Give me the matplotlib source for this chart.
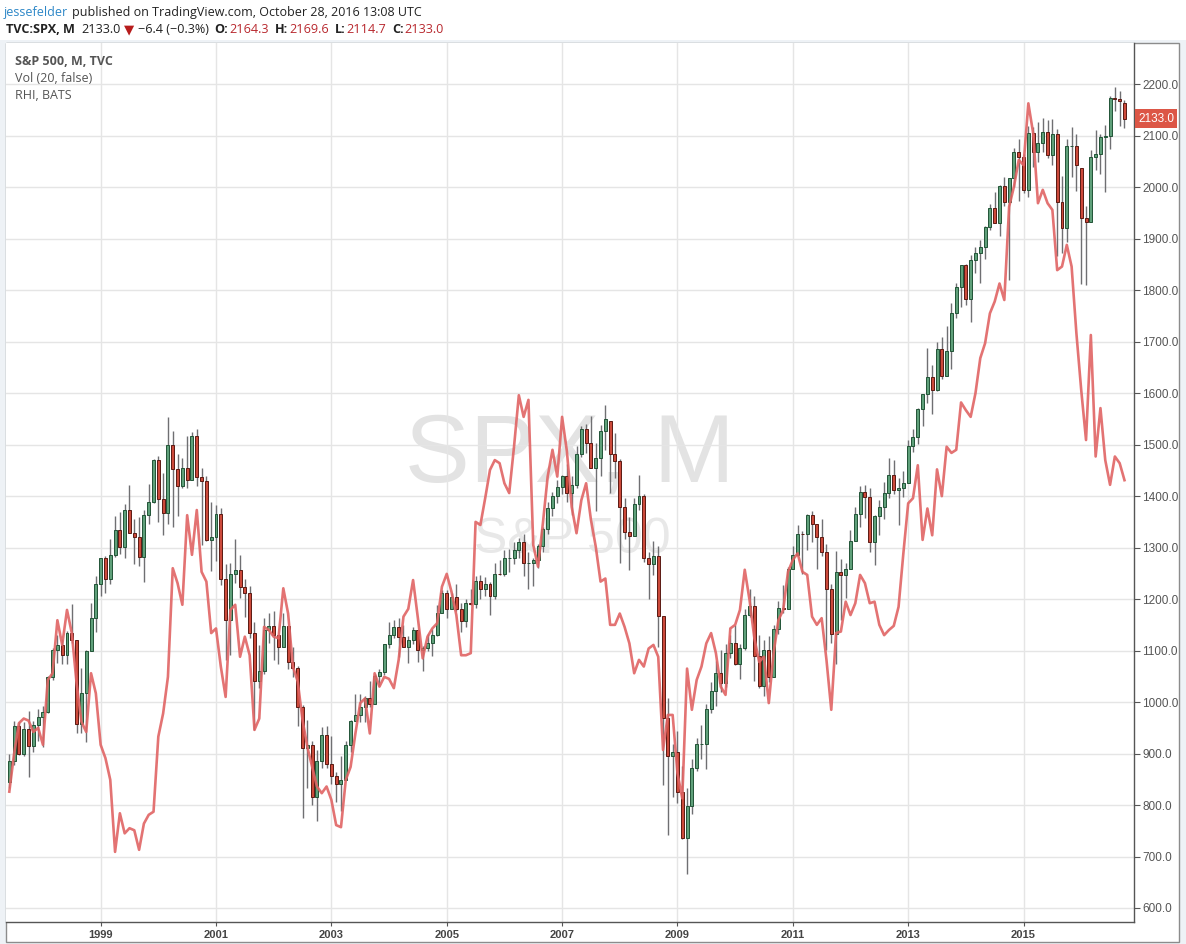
import numpy as np
import matplotlib
matplotlib.use("Agg")
import matplotlib.pyplot as plt
from matplotlib.patches import Rectangle
from matplotlib.transforms import IdentityTransform

# monthly S&P 500 candles, Jun 1997 .. Oct 2016
spx_open = [
    845.5, 885.1, 954.3, 899.5, 947.3, 914.6, 955.4,
    970.4, 980.3, 1049.3, 1101.8, 1111.8, 1090.8, 1133.8, 1120.7, 957.3, 1017.0, 1098.7, 1163.6,
    1229.2, 1279.6, 1238.3, 1286.4, 1335.2, 1301.8, 1372.7, 1328.7, 1320.4, 1282.7, 1362.9, 1388.9,
    1469.3, 1394.5, 1366.4, 1498.6, 1452.4, 1420.6, 1454.6, 1430.8, 1517.7, 1436.5, 1429.4, 1315.0,
    1320.3, 1366.0, 1239.9, 1160.3, 1249.5, 1255.8, 1224.4, 1211.2, 1133.6, 1040.9, 1059.8, 1139.5,
    1148.1, 1130.2, 1106.7, 1147.4, 1076.9, 1067.1, 989.8, 911.6, 916.1, 815.3, 885.8, 936.3,
    879.8, 855.7, 841.2, 848.2, 916.9, 963.6, 974.5, 990.3, 1008.0, 996.0, 1050.7, 1058.2,
    1111.9, 1131.1, 1144.9, 1126.2, 1107.3, 1120.7, 1140.8, 1101.7, 1104.2, 1114.6, 1130.2, 1173.8,
    1211.9, 1181.3, 1203.6, 1180.6, 1156.9, 1191.5, 1191.3, 1234.2, 1220.3, 1228.8, 1207.0, 1249.5,
    1248.3, 1280.1, 1280.7, 1294.8, 1310.6, 1270.1, 1270.2, 1276.7, 1303.8, 1335.9, 1377.9, 1400.6,
    1418.3, 1438.2, 1406.8, 1420.9, 1482.4, 1530.6, 1503.4, 1455.3, 1474.0, 1526.8, 1545.8, 1481.1,
    1468.4, 1378.6, 1330.6, 1322.7, 1385.6, 1400.4, 1280.0, 1267.4, 1282.8, 1166.4, 968.8, 896.2,
    903.3, 825.9, 735.1, 797.9, 872.8, 919.1, 919.3, 987.5, 1020.6, 1057.1, 1036.2, 1095.6,
    1115.1, 1073.9, 1104.5, 1169.4, 1186.7, 1089.4, 1030.7, 1101.6, 1049.3, 1141.2, 1183.3, 1180.6,
    1257.6, 1286.1, 1327.2, 1325.8, 1363.6, 1345.2, 1320.6, 1292.3, 1218.9, 1131.4, 1253.3, 1247.0,
    1257.6, 1312.4, 1365.7, 1408.5, 1397.9, 1310.3, 1362.2, 1379.3, 1406.6, 1440.7, 1412.2, 1416.2,
    1426.2, 1498.1, 1514.7, 1569.2, 1597.6, 1630.7, 1606.3, 1685.7, 1633.0, 1681.6, 1756.5, 1805.8,
    1848.4, 1782.6, 1859.5, 1872.3, 1884.0, 1923.6, 1960.2, 1930.7, 2003.4, 1972.3, 2018.1, 2067.6,
    2058.9, 1995.0, 2104.5, 2067.9, 2085.5, 2107.4, 2063.1, 2103.8, 1972.2, 1920.0, 2079.4, 2080.4,
    2038.2, 1940.2, 1932.2, 2059.7, 2065.3, 2097.0, 2098.9, 2173.6, 2171.0, 2164.3,
]
spx_high = [
    898.7, 962.7, 961.3, 960.5, 983.1, 963.1, 986.3,
    992.6, 1051.0, 1105.7, 1130.5, 1123.0, 1138.5, 1190.6, 1121.1, 1066.1, 1100.6, 1193.2, 1244.9,
    1280.0, 1282.8, 1316.6, 1361.4, 1368.6, 1385.0, 1421.0, 1354.9, 1360.2, 1373.2, 1424.0, 1473.1,
    1478.0, 1444.6, 1552.9, 1527.2, 1481.5, 1474.6, 1517.3, 1525.2, 1530.1, 1454.8, 1438.5, 1389.1,
    1383.4, 1376.4, 1267.4, 1269.3, 1315.9, 1286.6, 1239.8, 1226.3, 1155.4, 1110.6, 1163.4, 1173.0,
    1176.6, 1130.2, 1173.0, 1147.8, 1106.6, 1070.0, 994.5, 965.0, 924.0, 907.4, 951.0, 954.3,
    935.0, 864.6, 895.9, 924.2, 965.4, 1015.3, 1015.4, 1011.0, 1040.3, 1053.8, 1063.7, 1112.6,
    1155.4, 1159.0, 1163.2, 1150.6, 1127.7, 1146.3, 1140.8, 1108.6, 1131.5, 1142.1, 1188.5, 1217.9,
    1217.8, 1212.4, 1229.1, 1191.9, 1199.6, 1219.6, 1245.2, 1245.9, 1243.1, 1233.3, 1270.6, 1275.8,
    1294.9, 1297.6, 1310.9, 1318.2, 1326.7, 1290.7, 1280.4, 1306.7, 1340.3, 1389.5, 1407.9, 1431.8,
    1441.6, 1461.6, 1438.9, 1498.0, 1535.6, 1540.6, 1555.9, 1503.9, 1538.7, 1576.1, 1545.8, 1523.6,
    1471.8, 1396.0, 1359.7, 1397.0, 1440.2, 1404.1, 1292.2, 1313.2, 1303.0, 1167.0, 1007.5, 918.9,
    943.9, 875.0, 833.0, 888.7, 930.2, 956.2, 996.7, 1039.5, 1080.2, 1101.4, 1113.7, 1130.4,
    1150.5, 1112.4, 1180.2, 1219.8, 1205.1, 1131.2, 1121.0, 1129.2, 1148.9, 1196.1, 1227.1, 1262.6,
    1302.7, 1344.1, 1332.3, 1364.6, 1370.6, 1345.2, 1356.5, 1307.4, 1229.3, 1292.7, 1277.6, 1269.4,
    1333.5, 1378.0, 1419.2, 1422.4, 1415.3, 1363.5, 1391.7, 1426.7, 1474.5, 1471.0, 1434.3, 1448.0,
    1509.9, 1530.9, 1570.3, 1597.6, 1687.2, 1654.2, 1698.8, 1709.7, 1729.9, 1775.2, 1813.6, 1849.4,
    1850.8, 1867.9, 1884.0, 1897.3, 1924.0, 1968.2, 1991.4, 2005.0, 2019.3, 2018.2, 2075.8, 2093.6,
    2064.4, 2119.6, 2117.5, 2125.9, 2134.7, 2129.9, 2132.8, 2112.7, 2021.0, 2094.3, 2116.5, 2104.3,
    2038.2, 1963.0, 2072.2, 2111.1, 2103.5, 2120.6, 2177.1, 2193.8, 2187.9, 2169.6,
]
spx_low = [
    833.1, 876.9, 897.7, 896.2, 855.3, 903.3, 924.9,
    912.8, 979.6, 1042.8, 1076.7, 1074.4, 1074.0, 1114.3, 939.9, 939.9, 923.3, 1098.7, 1136.9,
    1205.5, 1211.7, 1229.0, 1282.0, 1287.2, 1279.5, 1328.0, 1268.1, 1265.0, 1233.7, 1345.0, 1387.4,
    1350.1, 1325.1, 1346.6, 1339.4, 1361.1, 1415.0, 1416.5, 1430.8, 1419.4, 1305.8, 1312.0, 1254.1,
    1274.6, 1228.3, 1081.2, 1091.9, 1232.0, 1203.0, 1165.5, 1124.9, 944.8, 1026.8, 1054.3, 1114.9,
    1081.7, 1074.4, 1106.7, 1063.5, 1048.0, 952.9, 775.7, 833.4, 800.2, 768.6, 872.1, 872.5,
    840.3, 806.3, 788.9, 847.9, 902.8, 963.6, 962.1, 960.8, 990.4, 996.0, 1031.2, 1053.4,
    1105.1, 1124.4, 1087.2, 1107.2, 1076.3, 1113.3, 1078.8, 1060.7, 1099.2, 1090.2, 1127.6, 1173.8,
    1163.8, 1180.3, 1176.9, 1136.2, 1146.2, 1188.3, 1183.6, 1201.1, 1205.4, 1168.2, 1201.1, 1246.6,
    1245.7, 1253.6, 1268.4, 1280.7, 1245.3, 1219.3, 1224.5, 1261.3, 1290.9, 1326.9, 1361.0, 1385.9,
    1404.0, 1389.4, 1364.0, 1416.4, 1476.7, 1484.2, 1454.3, 1370.6, 1439.3, 1489.6, 1406.1, 1435.7,
    1270.1, 1316.8, 1257.0, 1322.7, 1373.1, 1272.0, 1200.4, 1247.5, 1106.4, 839.8, 741.0, 815.7,
    804.2, 734.5, 666.8, 783.3, 866.1, 888.9, 869.3, 978.5, 992.0, 1020.0, 1029.4, 1085.9,
    1071.6, 1044.5, 1101.0, 1165.0, 1040.8, 1028.3, 1010.9, 1039.7, 1049.3, 1131.9, 1173.0, 1180.6,
    1257.6, 1282.9, 1249.1, 1294.7, 1311.8, 1258.1, 1282.9, 1101.5, 1114.2, 1074.8, 1158.7, 1202.4,
    1257.6, 1312.4, 1340.0, 1357.4, 1292.0, 1266.7, 1325.4, 1354.7, 1396.6, 1403.3, 1343.4, 1398.1,
    1426.2, 1485.0, 1501.5, 1536.0, 1581.3, 1560.3, 1604.6, 1627.5, 1633.4, 1646.5, 1746.2, 1768.0,
    1770.5, 1737.9, 1834.4, 1814.4, 1859.8, 1916.0, 1930.7, 1904.8, 1964.0, 1820.7, 2001.0, 1972.6,
    1988.4, 1980.9, 2039.7, 2048.4, 2067.9, 2056.3, 2044.0, 1867.0, 1871.9, 1893.7, 2019.4, 1993.3,
    1812.3, 1810.1, 1932.2, 2033.8, 2025.9, 1991.7, 2074.0, 2147.6, 2119.1, 2114.7,
]
spx_close = [
    885.1, 954.3, 899.5, 947.3, 914.6, 955.4, 970.4,
    980.3, 1049.3, 1101.8, 1111.8, 1090.8, 1133.8, 1120.7, 957.3, 1017.0, 1098.7, 1163.6, 1229.2,
    1279.6, 1238.3, 1286.4, 1335.2, 1301.8, 1372.7, 1328.7, 1320.4, 1282.7, 1362.9, 1388.9, 1469.3,
    1394.5, 1366.4, 1498.6, 1452.4, 1420.6, 1454.6, 1430.8, 1517.7, 1436.5, 1429.4, 1315.0, 1320.3,
    1366.0, 1239.9, 1160.3, 1249.5, 1255.8, 1224.4, 1211.2, 1133.6, 1040.9, 1059.8, 1139.5, 1148.1,
    1130.2, 1106.7, 1147.4, 1076.9, 1067.1, 989.8, 911.6, 916.1, 815.3, 885.8, 936.3, 879.8,
    855.7, 841.2, 848.2, 916.9, 963.6, 974.5, 990.3, 1008.0, 996.0, 1050.7, 1058.2, 1111.9,
    1131.1, 1144.9, 1126.2, 1107.3, 1120.7, 1140.8, 1101.7, 1104.2, 1114.6, 1130.2, 1173.8, 1211.9,
    1181.3, 1203.6, 1180.6, 1156.9, 1191.5, 1191.3, 1234.2, 1220.3, 1228.8, 1207.0, 1249.5, 1248.3,
    1280.1, 1280.7, 1294.8, 1310.6, 1270.1, 1270.2, 1276.7, 1303.8, 1335.9, 1377.9, 1400.6, 1418.3,
    1438.2, 1406.8, 1420.9, 1482.4, 1530.6, 1503.4, 1455.3, 1474.0, 1526.8, 1549.4, 1481.1, 1468.4,
    1378.6, 1330.6, 1322.7, 1385.6, 1400.4, 1280.0, 1267.4, 1282.8, 1166.4, 968.8, 896.2, 903.3,
    825.9, 735.1, 797.9, 872.8, 919.1, 919.3, 987.5, 1020.6, 1057.1, 1036.2, 1095.6, 1115.1,
    1073.9, 1104.5, 1169.4, 1186.7, 1089.4, 1030.7, 1101.6, 1049.3, 1141.2, 1183.3, 1180.6, 1257.6,
    1286.1, 1327.2, 1325.8, 1363.6, 1345.2, 1320.6, 1292.3, 1218.9, 1131.4, 1253.3, 1247.0, 1257.6,
    1312.4, 1365.7, 1408.5, 1397.9, 1310.3, 1362.2, 1379.3, 1406.6, 1440.7, 1412.2, 1416.2, 1426.2,
    1498.1, 1514.7, 1569.2, 1597.6, 1630.7, 1606.3, 1685.7, 1633.0, 1681.6, 1756.5, 1805.8, 1848.4,
    1782.6, 1859.5, 1872.3, 1884.0, 1923.6, 1960.2, 1930.7, 2003.4, 1972.3, 2018.1, 2067.6, 2058.9,
    1995.0, 2104.5, 2067.9, 2085.5, 2107.4, 2063.1, 2103.8, 1972.2, 1920.0, 2079.4, 2080.4, 2043.9,
    1940.2, 1932.2, 2059.7, 2065.3, 2097.0, 2098.9, 2173.6, 2171.0, 2168.3, 2133.0,
]

# RHI overlay in price-axis units (same months)
rhi_overlay = [
    826, 900, 959, 968, 964, 942, 950,
    917, 1043, 1056, 1159, 1111, 1179, 1134, 1036, 962, 942, 1056, 1017,
    917, 891, 849, 709, 784, 745, 755, 751, 713, 764, 781, 787,
    933, 978, 1049, 1260, 1231, 1189, 1363, 1286, 1373, 1253, 1234, 1134,
    1143, 1069, 1010, 1179, 1189, 1088, 1127, 1091, 946, 968, 1146, 1140,
    1127, 1124, 1221, 1172, 1069, 1040, 965, 913, 874, 836, 823, 836,
    810, 761, 757, 849, 874, 939, 998, 1007, 939, 1056, 1030, 1049,
    1045, 1027, 1082, 1166, 1181, 1237, 1163, 1085, 1127, 1143, 1153, 1224,
    1249, 1214, 1169, 1091, 1091, 1095, 1350, 1344, 1396, 1451, 1470, 1464,
    1425, 1406, 1496, 1596, 1554, 1587, 1305, 1263, 1347, 1438, 1490, 1438,
    1554, 1487, 1379, 1328, 1392, 1425, 1354, 1302, 1234, 1240, 1150, 1150,
    1172, 1146, 1114, 1056, 1082, 1069, 1104, 1111, 1088, 907, 975, 975,
    862, 813, 1065, 985, 1043, 1069, 1114, 1134, 1095, 1030, 1014, 1143,
    1150, 1179, 1257, 1198, 1124, 1078, 1088, 998, 1095, 1159, 1179, 1253,
    1276, 1289, 1253, 1247, 1166, 1150, 1163, 1082, 985, 1134, 1137, 1195,
    1169, 1192, 1247, 1231, 1192, 1195, 1150, 1130, 1140, 1148, 1185, 1289,
    1386, 1396, 1460, 1315, 1376, 1324, 1452, 1400, 1496, 1484, 1490, 1582,
    1567, 1554, 1600, 1668, 1697, 1755, 1778, 1813, 1781, 1962, 2001, 2053,
    2043, 2163, 2105, 1969, 1995, 1969, 1956, 1839, 1846, 1888, 1846, 1716,
    1606, 1509, 1713, 1477, 1571, 1470, 1422, 1477, 1464, 1431,
]

first_year, first_month = 1997, 6
year_ticks = [1999, 2001, 2003, 2005, 2007, 2009, 2011, 2013, 2015]
price_ticks = list(range(600, 2201, 100))

W, H = 1186, 944
UP, UP_EDGE = "#5fa07a", "#225437"
DN, DN_EDGE = "#cc4a3b", "#5b1a13"
WICK = "#6f6f72"
TXT = "#555555"
RED_TXT = "#b8282e"

fig = plt.figure(figsize=(W / 100, H / 100), dpi=100)
fig.patch.set_facecolor("white")
fig.patches.append(Rectangle((0, 0), 1, (H - 40) / H, transform=fig.transFigure,
                             facecolor="#eef2f6", edgecolor="none", zorder=-10))
fig.patches.append(Rectangle((6 / W, (H - 942) / H), (1179 - 6) / W, (942 - 43) / H,
                             transform=fig.transFigure, facecolor="white",
                             edgecolor="#8c8c8c", lw=1, zorder=-5))

ax = fig.add_axes([6 / W, (H - 922) / H, (1134 - 6) / W, (922 - 43) / H])
ax.set_facecolor("white")

o = np.array(spx_open)
hi = np.array(spx_high)
lo = np.array(spx_low)
c = np.array(spx_close)
x = np.arange(len(c))
up = c >= o

ax.vlines(x, lo, hi, color=WICK, lw=1, zorder=2)
ax.bar(x[up], (c - o)[up], bottom=o[up], width=0.62, color=UP,
       edgecolor=UP_EDGE, lw=0.7, zorder=3)
ax.bar(x[~up], (o - c)[~up], bottom=c[~up], width=0.62, color=DN,
       edgecolor=DN_EDGE, lw=0.7, zorder=3)

ax.plot(np.arange(len(rhi_overlay)), rhi_overlay, color="#e06464", lw=1.9,
        alpha=0.9, zorder=4, solid_joinstyle="round")

ax.set_xlim(-0.69, 233.98)
ax.set_ylim(572.8, 2280.2)

# watermark
ax.text(0.5, 0.5006, "SPX, M", transform=ax.transAxes, ha="center", va="baseline",
        fontsize=70, family="Liberation Sans", color="#e3e3e3", zorder=0)
ax.text(0.502, 0.4198, "S&P 500", transform=ax.transAxes, ha="center", va="baseline",
        fontsize=36, family="Liberation Sans", color="#e8e8e8", zorder=0)

for side in ("top", "left"):
    ax.spines[side].set_visible(False)
for side in ("right", "bottom"):
    ax.spines[side].set_color(TXT)
    ax.spines[side].set_linewidth(1)

ax.yaxis.tick_right()
ax.set_yticks(price_ticks)
ax.set_yticklabels([f"{v:.1f}" for v in price_ticks], family="Liberation Sans")
ax.tick_params(axis="y", length=4, color=TXT, labelsize=8.5, labelcolor=TXT, pad=2)

tick_pos = [(yr - first_year) * 12 + 1 - first_month for yr in year_ticks]
ax.set_xticks(tick_pos)
ax.set_xticklabels([str(yr) for yr in year_ticks], family="Liberation Sans",
                   fontweight="bold")
ax.tick_params(axis="x", length=3, color=TXT, labelsize=8, labelcolor="#444444", pad=3)

ax.grid(color="#e5e5e5", lw=1)
ax.set_axisbelow(True)

# last price tag on the scale
ax.annotate(f"{c[-1]:.1f}", xy=(1, c[-1]), xycoords=("axes fraction", "data"),
            xytext=(4, 0), textcoords="offset pixels", ha="left", va="center",
            color="white", fontsize=8.5, family="Liberation Sans",
            bbox=dict(boxstyle="square,pad=0.28", fc="#dc5646", ec="none"))


def text_run(x0, base_y, parts):
    rend = fig.canvas.get_renderer()
    xx = x0
    for s, style, gap in parts:
        t = fig.text(xx, H - base_y, s, transform=IdentityTransform(),
                     ha="left", va="baseline", **style)
        xx += t.get_window_extent(rend).width + gap


hdr = dict(family="Open Sans", fontsize=9.1, color="#222222")
hdr_b = dict(hdr, fontweight="bold")
hdr_r = dict(hdr, color=RED_TXT)
hdr1 = dict(hdr, fontsize=9.0)

text_run(4, 16, [
    ("jessefelder", dict(hdr1, color="#2d87c7"), 3.5),
    ("published on TradingView.com, October 28, 2016 13:08 UTC", hdr1, 0),
])
text_run(6, 33, [
    ("TVC:SPX, M", hdr_b, 7),
    (f"{c[-1]:.1f}", hdr, 3),
    ("\u25BC", dict(family="DejaVu Sans", fontsize=9.5, color="#b71c1c"), 3),
    ("\u22126.4 (\u22120.3%)", hdr, 6),
    ("O:", hdr_b, 1), (f"{o[-1]:.1f}", hdr_r, 6),
    ("H:", hdr_b, 1), (f"{hi[-1]:.1f}", hdr_r, 6),
    ("L:", hdr_b, 1), (f"{lo[-1]:.1f}", hdr_r, 6),
    ("C:", hdr_b, 1), (f"{c[-1]:.1f}", hdr_r, 0),
])

leg = dict(family="Open Sans", fontsize=9, color=TXT)
text_run(15, 65, [("S&P 500, M, TVC", dict(leg, fontweight="bold"), 0)])
text_run(15, 82, [("Vol (20, false)", leg, 0)])
text_run(15, 99, [("RHI, BATS", leg, 0)])

fig.savefig("out.png", dpi=100)
